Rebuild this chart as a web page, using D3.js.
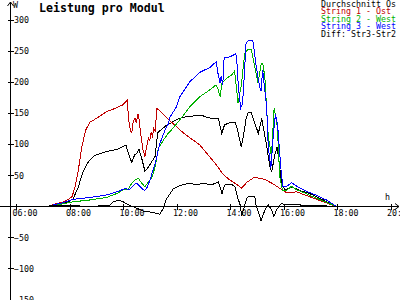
<!DOCTYPE html>
<html><head><meta charset="utf-8">
<script src="https://cdn.jsdelivr.net/npm/d3@7/dist/d3.min.js"></script>
<style>
html,body{margin:0;padding:0;background:#fff;overflow:hidden}
</style>
</head><body>
<svg id="chart" width="400" height="300"></svg>
<script>
// ---- data (hours, W) ----
const titleText = "Leistung pro Modul";
const seriesNames = ["Durchschnitt Os", "String 1 - Ost", "String 2 - West", "String 3 - West", "Diff: Str3-Str2"];
const seriesColors = ["#000000", "#c00000", "#00b000", "#0000ff", "#000000"];
const xTickHours = [6, 8, 10, 12, 14, 16, 18, 20];
const xTickLabels = ["06:00", "08:00", "10:00", "12:00", "14:00", "16:00", "18:00", "20:00"];
const yTickValues = [300, 250, 200, 150, 100, 50, -50, -100, -150];

const avgData = [[7.2,0],[7.5,3],[7.8,5],[8.0,8],[8.14,12],[8.33,31],[8.5,55],[8.7,71],[8.96,82],[9.39,88],[9.76,91],[10.11,98],[10.2,85],[10.33,70],[10.43,82],[10.51,85],[10.6,91],[10.7,77],[10.82,56],[10.95,63],[11.07,71],[11.2,80],[11.3,118],[11.45,124],[11.63,130],[11.76,133],[12.0,139],[12.25,143],[12.62,145],[13.0,145],[13.13,143],[13.4,140],[13.57,141],[13.63,128],[13.69,117],[13.8,131],[14.0,134],[14.19,135],[14.28,123],[14.42,95],[14.5,112],[14.6,140],[14.68,150],[14.8,150],[14.93,133],[15.06,117],[15.19,141],[15.26,123],[15.36,100],[15.48,66],[15.56,55],[15.66,80],[15.76,95],[15.84,69],[15.93,35],[16.06,26],[16.31,31],[16.62,25],[16.99,20],[17.49,10],[17.93,0]];

const string1Data = [[7.2,0],[7.5,4],[7.8,7],[8.0,12],[8.1,16],[8.2,30],[8.33,58],[8.46,95],[8.6,122],[8.77,135],[9.08,143],[9.39,152],[9.76,158],[10.0,163],[10.11,168],[10.16,170],[10.21,140],[10.28,120],[10.33,118],[10.38,135],[10.45,142],[10.5,134],[10.56,148],[10.6,140],[10.68,110],[10.75,90],[10.82,80],[10.88,95],[10.95,110],[11.0,106],[11.05,118],[11.1,112],[11.15,125],[11.2,120],[11.27,157],[11.3,156],[11.76,137],[12.25,118],[12.88,98],[13.5,66],[13.69,54],[13.85,47],[14.0,42],[14.25,35],[14.44,29],[14.62,38],[14.75,42],[14.9,46],[15.1,45],[15.3,43],[15.43,40],[15.6,36],[15.81,30],[16.0,25],[16.1,22],[16.3,22],[16.49,23],[16.99,15],[17.48,7],[17.96,0]];

const string2Data = [[7.2,0],[7.5,2],[7.8,4],[8.0,6],[8.14,7],[8.77,10],[9.39,14],[9.75,20],[10.01,26],[10.2,27],[10.3,35],[10.45,42],[10.57,45],[10.7,37],[10.82,31],[10.95,39],[11.07,45],[11.2,63],[11.32,93],[11.51,106],[11.69,117],[11.76,120],[12.13,139],[12.5,160],[12.87,176],[13.25,187],[13.48,195],[13.56,187],[13.63,176],[13.7,198],[13.88,206],[14.07,211],[14.17,217],[14.25,187],[14.3,166],[14.42,193],[14.55,246],[14.67,252],[14.8,252],[14.92,225],[15.05,198],[15.17,230],[15.22,230],[15.3,209],[15.43,112],[15.55,80],[15.65,158],[15.77,128],[15.86,47],[15.96,26],[16.1,25],[16.3,32],[16.5,26],[16.75,22],[17.0,17],[17.5,8],[17.96,0]];

const string3Data = [[7.2,0],[7.5,3],[7.8,6],[8.0,9],[8.14,11],[8.77,14],[9.39,18],[9.76,23],[10.07,28],[10.26,27],[10.4,34],[10.51,37],[10.6,33],[10.8,25],[10.9,30],[11.01,42],[11.1,55],[11.2,68],[11.38,101],[11.57,122],[11.69,132],[11.76,143],[12.0,160],[12.13,176],[12.5,200],[12.87,215],[13.25,223],[13.48,232],[13.56,211],[13.63,198],[13.67,209],[13.73,195],[13.78,238],[14.0,240],[14.22,245],[14.26,230],[14.31,193],[14.4,158],[14.47,165],[14.52,200],[14.6,262],[14.7,267],[14.85,267],[14.9,252],[14.97,228],[15.06,203],[15.12,190],[15.16,185],[15.22,219],[15.3,187],[15.37,159],[15.43,95],[15.53,62],[15.62,115],[15.7,148],[15.78,130],[15.85,90],[15.92,52],[15.98,31],[16.1,31],[16.3,38],[16.5,32],[16.85,24],[17.2,18],[17.6,10],[17.97,0]];

const diffData = [[7.2,0],[7.3,1],[8.3,1],[8.4,0],[9.05,0],[9.1,1],[9.5,1],[9.6,6],[9.82,10],[10.01,7],[10.2,2],[10.39,-1],[10.76,-8],[10.95,-9],[11.2,-11],[11.38,-13],[11.5,-4],[11.63,12],[11.76,20],[11.88,28],[12.19,34],[12.5,37],[12.75,34],[13.0,37],[13.3,34],[13.56,39],[13.63,31],[13.7,20],[13.8,34],[14.06,35],[14.19,31],[14.3,12],[14.38,2],[14.44,-15],[14.5,-6],[14.62,12],[14.68,15],[14.93,15],[14.97,2],[15.06,-9],[15.16,-23],[15.25,-12],[15.37,-1],[15.43,2],[15.56,-6],[15.64,-17],[15.74,-6],[15.87,2],[15.93,4],[16.0,3],[16.6,3],[16.67,1],[17.96,0]];

// ---- drawing ----
const FONT = '"DejaVu Sans Mono", "Liberation Mono", monospace';
const svg = d3.select("#chart");
svg.append("rect").attr("width", 400).attr("height", 300).attr("fill", "#ffffff");

const x = d3.scaleLinear().domain([6, 20]).range([16, 390.5]);
const y = d3.scaleLinear().domain([-150, 300]).range([299.5, 19.5]);
const axisX = 10.5;
const y0 = Math.round(y(0)) + 0.5;

// x axis
const gx = svg.append("g").attr("transform", `translate(0,${y0})`)
  .call(d3.axisBottom(x).tickValues(xTickHours).tickFormat((d, i) => xTickLabels[i]).tickSize(3).tickSizeOuter(0));
gx.select(".domain").remove();
gx.selectAll(".tick line").attr("y1", -3).attr("y2", 3).attr("stroke", "#000").attr("shape-rendering", "crispEdges");
gx.selectAll(".tick text").attr("x", -4).attr("y", 9.5).attr("dy", 0)
  .attr("text-anchor", "start").attr("font-family", FONT).attr("font-size", 8.3).attr("fill", "#000");
gx.attr("font-family", null).attr("font-size", null);

// y axis
const gy = svg.append("g").attr("transform", `translate(${axisX},0)`)
  .call(d3.axisRight(y).tickValues(yTickValues).tickSize(3).tickSizeOuter(0));
gy.select(".domain").remove();
gy.selectAll(".tick line").attr("x1", -3).attr("x2", 3).attr("stroke", "#000").attr("shape-rendering", "crispEdges");
gy.selectAll(".tick text").attr("x", 3.5).attr("dy", "0.36em")
  .attr("text-anchor", "start").attr("font-family", FONT).attr("font-size", 8.3).attr("fill", "#000");
gy.attr("font-family", null).attr("font-size", null);

// axis lines + arrows
const axes = svg.append("g").attr("stroke", "#000").attr("fill", "none").attr("shape-rendering", "crispEdges");
axes.append("line").attr("x1", 0).attr("x2", 399).attr("y1", y0).attr("y2", y0);
axes.append("line").attr("x1", axisX).attr("x2", axisX).attr("y1", 2).attr("y2", 300);
svg.append("path").attr("d", `M${axisX-3},6L${axisX},2L${axisX+3},6`).attr("stroke", "#000").attr("fill", "none");
svg.append("path").attr("d", `M395,${y0-3}L399,${y0}L395,${y0+3}`).attr("stroke", "#000").attr("fill", "none");

svg.append("text").attr("x", 13).attr("y", 8).text("W")
  .attr("font-family", FONT).attr("font-size", 8.3).attr("fill", "#000");
svg.append("text").attr("x", 385).attr("y", 199.5).text("h")
  .attr("font-family", FONT).attr("font-size", 8.3).attr("fill", "#000");

// series
const line = d3.line().x(d => x(d[0])).y(d => y(d[1]));
const drawOrder = [[avgData, 0], [string1Data, 1], [string2Data, 2], [string3Data, 3], [diffData, 4]];
drawOrder.forEach(([data, i]) => {
  svg.append("path").datum(data).attr("d", line)
    .attr("fill", "none").attr("stroke", seriesColors[i]).attr("stroke-width", 1)
    .attr("shape-rendering", "crispEdges");
});

// title
svg.append("text").attr("x", 39).attr("y", 11.5).text(titleText)
  .attr("font-family", FONT).attr("font-weight", "bold").attr("font-size", 11.6).attr("fill", "#000");

// legend
svg.append("g").selectAll("text").data(seriesNames).join("text")
  .attr("x", 321).attr("y", (d, i) => 7 + i * 7.4)
  .attr("font-family", FONT).attr("font-size", 8.3)
  .attr("fill", (d, i) => seriesColors[i]).text(d => d);
</script>
</body></html>
